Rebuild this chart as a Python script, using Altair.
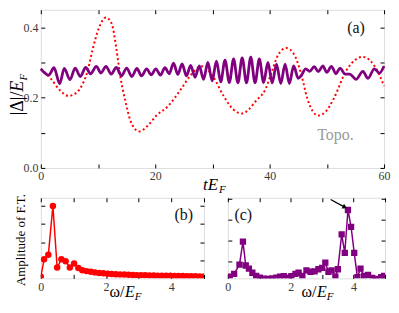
import altair as alt
import pandas as pd

# ---------------- data ----------------
# panel (a): red dotted curve
t_red = [0, 1.7, 3.4, 4.8, 6.3, 7.4, 8.2, 9.1, 10.2, 11.4, 12.4, 13.2, 13.9, 14.8, 15.65, 16.4,
         17.2, 18.8, 20.2, 22.2, 24.5, 26.2, 28.2, 30.1, 31.9, 33.6, 35.2, 36.4, 37.5, 39.3, 40.5,
         41.5, 42.9, 44.2, 45.5, 46.6, 47.5, 48.5, 49.8, 51.2, 53.4, 55.1, 56.3, 57.6, 59.2, 60]
v_red = [0.282, 0.255, 0.22, 0.205, 0.215, 0.242, 0.277, 0.34, 0.40, 0.428, 0.41, 0.34, 0.26,
         0.189, 0.135, 0.112, 0.104, 0.122, 0.149, 0.175, 0.224, 0.264, 0.289, 0.26, 0.206, 0.167,
         0.155, 0.167, 0.189, 0.225, 0.28, 0.322, 0.341, 0.325, 0.268, 0.197, 0.162, 0.149, 0.16,
         0.197, 0.277, 0.309, 0.316, 0.305, 0.264, 0.233]
# panel (a): purple oscillating curve
t_pur = [0, 1.4, 2.3, 3.3, 4.1, 5.1, 6.0, 6.9, 7.85, 8.7, 9.7, 10.5, 11.4, 12.3, 13.2, 14.1, 15.0,
         15.9, 16.8, 17.6, 18.5, 19.3, 20.1, 20.9, 21.7, 22.45, 23.2, 23.95, 24.7, 25.45, 26.2,
         26.95, 27.7, 28.45, 29.2, 29.95, 30.7, 31.45, 32.2, 32.95, 33.7, 34.45, 35.2, 35.95, 36.7,
         37.45, 38.2, 38.95, 39.7, 40.45, 41.2, 41.95, 42.7, 43.45, 44.2, 45.0, 45.5, 46.3, 47.0,
         47.8, 48.5, 49.3, 50.0, 50.8, 51.6, 52.3, 53.2, 54.0, 55.1, 56.3, 57.2, 58.3, 59.2, 60]
v_pur = [0.282, 0.264, 0.285, 0.240, 0.283, 0.251, 0.284, 0.260, 0.286, 0.268, 0.289, 0.270,
         0.289, 0.267, 0.286, 0.262, 0.284, 0.260, 0.283, 0.262, 0.282, 0.265, 0.282, 0.264,
         0.285, 0.268, 0.298, 0.266, 0.296, 0.262, 0.292, 0.258, 0.290, 0.252, 0.300, 0.248,
         0.304, 0.245, 0.307, 0.243, 0.310, 0.242, 0.313, 0.242, 0.315, 0.242, 0.310, 0.243,
         0.300, 0.242, 0.295, 0.240, 0.295, 0.240, 0.290, 0.255, 0.262, 0.282, 0.275, 0.288,
         0.274, 0.290, 0.272, 0.289, 0.268, 0.284, 0.267, 0.267, 0.252, 0.275, 0.255, 0.282,
         0.270, 0.290]

# panel (b): red circles
w_b = [0, 0.1, 0.23, 0.37, 0.5, 0.63, 0.76, 0.89, 1.02, 1.15, 1.27, 1.4, 1.53, 1.66, 1.79, 1.92,
       2.05, 2.17, 2.3, 2.43, 2.56, 2.69, 2.82, 2.94, 3.07, 3.2, 3.33, 3.46, 3.58, 3.71, 3.84,
       3.97, 4.1, 4.22, 4.35, 4.48, 4.61, 4.74, 4.87, 5.0]
amp_b = [0.09, 1.05, 1.3, 4.0, 0.6, 1.05, 0.95, 0.6, 0.82, 0.57, 0.45, 0.4, 0.36, 0.33, 0.3, 0.28,
         0.26, 0.24, 0.23, 0.22, 0.21, 0.2, 0.19, 0.18, 0.18, 0.17, 0.16, 0.16, 0.15, 0.15, 0.14,
         0.14, 0.13, 0.13, 0.13, 0.12, 0.12, 0.12, 0.11, 0.11]

# panel (c): purple squares
w_c = [0.06, 0.2, 0.37, 0.48, 0.57, 0.67, 0.78, 0.9, 1.02, 1.15, 1.28, 1.41, 1.54, 1.66, 1.78,
       1.92, 2.02, 2.15, 2.25, 2.37, 2.5, 2.63, 2.76, 2.88, 3.0, 3.1, 3.2, 3.3, 3.42, 3.5, 3.62,
       3.72, 3.82, 3.92, 4.02, 4.12, 4.22, 4.33, 4.46, 4.59, 4.72, 4.88, 4.97]
amp_c = [0.26, 0.4, 0.84, 1.95, 0.8, 0.65, 0.45, 0.3, 0.21, 0.17, 0.16, 0.18, 0.22, 0.26, 0.29,
         0.22, 0.29, 0.4, 0.45, 0.3, 0.57, 0.5, 0.52, 0.62, 0.69, 0.94, 0.5, 0.57, 0.26, 0.62,
         2.3, 1.41, 3.48, 2.67, 1.41, 0.24, 0.65, 0.3, 0.35, 0.2, 0.15, 0.24, 0.3]

# arrow annotation in (c) (tail -> head)
arrow_w = [3.27, 3.70]
arrow_v = [3.99, 3.63]

# tick values
ticks_a_x = [0, 10, 20, 30, 40, 50, 60]
ticks_a_y = [0, 0.1, 0.2, 0.3, 0.4]
ticks_bc_x = [0, 1, 2, 3, 4, 5]
ticks_b_y = [1, 2, 3, 4]
ticks_c_y = [1, 2, 3, 4]

# ---------------- style ----------------
SERIF = "Liberation Serif"
RED = "#ff0000"
PURPLE = "#800080"
LAB = "#3a3a3a"

WA, HA = 345, 159
WB, HB = 164, 81
WC, HC = 158, 81


def ax(orient, values, label_expr=None, show=True):
    kw = dict(orient=orient, values=values, domain=False, grid=False, ticks=True, tickSize=4,
              tickWidth=1, tickColor="black", offset=-4, title=None, labelFont=SERIF,
              labelFontSize=12, labelColor=LAB, labelPadding=3, labelFlush=False,
              labelOverlap=False)
    if not show:
        kw["labels"] = False
    if label_expr:
        kw["labelExpr"] = label_expr
    return alt.Axis(**kw)


def txt(s, x, y, size=16, italic=False, angle=0, color="black", align="left"):
    kw = dict(font=SERIF, fontSize=size, color=color, align=align, baseline="middle")
    if italic:
        kw["fontStyle"] = "italic"
    if angle:
        kw["angle"] = angle
    return alt.Chart(pd.DataFrame({"s": [s]})).mark_text(**kw).encode(
        x=alt.value(x), y=alt.value(y), text="s:N")


# ---------------- panel (a) ----------------
xa = alt.Scale(domain=[0, 60], nice=False)
ya = alt.Scale(domain=[0, 0.45], nice=False)
df_red = pd.DataFrame({"t": t_red, "v": v_red})
df_pur = pd.DataFrame({"t": t_pur, "v": v_pur})

red_a = alt.Chart(df_red).mark_line(color=RED, strokeWidth=2, strokeDash=[2, 2.6],
                                    interpolate="monotone").encode(
    x=alt.X("t:Q", scale=xa, axis=ax("bottom", ticks_a_x,
                                     "datum.value % 20 == 0 ? datum.value : ''")),
    y=alt.Y("v:Q", scale=ya, axis=ax("left", ticks_a_y,
                                     "round(datum.value*10) % 2 == 0 ? format(datum.value, '.1f') : ''")))
pur_a = alt.Chart(df_pur).mark_line(color=PURPLE, strokeWidth=2.8, interpolate="monotone").encode(
    x=alt.X("t:Q", scale=xa, axis=None), y=alt.Y("v:Q", scale=ya, axis=None))
mir_a = alt.Chart(df_red).mark_point(opacity=0).encode(
    x=alt.X("t:Q", scale=xa, axis=ax("top", ticks_a_x, show=False)),
    y=alt.Y("v:Q", scale=ya, axis=ax("right", ticks_a_y, show=False)))
ann_a = alt.Chart(pd.DataFrame({"t": [55.1, 51.5], "v": [0.397, 0.093], "s": ["(a)", "Topo."],
                                "c": ["#111111", "#9a9a9a"]})).mark_text(
    font=SERIF, fontSize=16).encode(
    x=alt.X("t:Q", scale=xa, axis=None), y=alt.Y("v:Q", scale=ya, axis=None), text="s:N",
    color=alt.Color("c:N", scale=None))

panel_a = alt.layer(
    red_a, pur_a, mir_a, ann_a,
    txt("|Δ|/", -23, 106, size=18, angle=270),
    txt("E", -23, 82.5, size=18, italic=True, angle=270),
    txt("F", -17, 71, size=11, italic=True, angle=270),
    txt("tE", 163, HA + 17, size=17, italic=True),
    txt("F", 179, HA + 22, size=11, italic=True),
).resolve_axis(x="independent", y="independent").properties(width=WA, height=HA)

# ---------------- panel (b) ----------------
xb = alt.Scale(domain=[0, 5], nice=False)
yb = alt.Scale(domain=[0, 4.45], nice=False)
df_b = pd.DataFrame({"w": w_b, "a": amp_b})
line_b = alt.Chart(df_b).mark_line(color=RED, strokeWidth=1.5, clip=True).encode(
    x=alt.X("w:Q", scale=xb, axis=ax("bottom", ticks_bc_x,
                                     "datum.value % 2 == 0 ? datum.value : ''")),
    y=alt.Y("a:Q", scale=yb, axis=ax("left", ticks_b_y, "''")))
pts_b = alt.Chart(df_b).mark_point(shape="circle", filled=True, color=RED, size=42, opacity=1,
                                   clip=True).encode(
    x=alt.X("w:Q", scale=xb, axis=None), y=alt.Y("a:Q", scale=yb, axis=None))
mir_b = alt.Chart(df_b).mark_point(opacity=0).encode(
    x=alt.X("w:Q", scale=xb, axis=ax("top", ticks_bc_x, show=False)),
    y=alt.Y("a:Q", scale=yb, axis=ax("right", ticks_b_y, show=False)))
ann_b = alt.Chart(pd.DataFrame({"w": [4.38], "a": [3.5], "s": ["(b)"]})).mark_text(
    font=SERIF, fontSize=16, color="#111111").encode(
    x=alt.X("w:Q", scale=xb, axis=None), y=alt.Y("a:Q", scale=yb, axis=None), text="s:N")

panel_b = alt.layer(
    line_b, pts_b, mir_b, ann_b,
    txt("Amplitude of F.T.", -20, HB / 2 + 2, size=13, angle=270, align="center"),
    txt("ω/", 69, HB + 14, size=16),
    txt("E", 84.5, HB + 14, size=16, italic=True),
    txt("F", 94.5, HB + 19, size=11, italic=True),
).resolve_axis(x="independent", y="independent").properties(width=WB, height=HB)

# ---------------- panel (c) ----------------
xc = alt.Scale(domain=[0, 5], nice=False)
yc = alt.Scale(domain=[0.18, 4.07], nice=False)
df_c = pd.DataFrame({"w": w_c, "a": amp_c})
line_c = alt.Chart(df_c).mark_line(color=PURPLE, strokeWidth=1.5, clip=True).encode(
    x=alt.X("w:Q", scale=xc, axis=ax("bottom", ticks_bc_x,
                                     "datum.value % 2 == 0 ? datum.value : ''")),
    y=alt.Y("a:Q", scale=yc, axis=ax("left", ticks_c_y, "''")))
pts_c = alt.Chart(df_c).mark_point(shape="square", filled=True, color=PURPLE, size=40, opacity=1,
                                   clip=True).encode(
    x=alt.X("w:Q", scale=xc, axis=None), y=alt.Y("a:Q", scale=yc, axis=None))
mir_c = alt.Chart(df_c).mark_point(opacity=0).encode(
    x=alt.X("w:Q", scale=xc, axis=ax("top", ticks_bc_x, show=False)),
    y=alt.Y("a:Q", scale=yc, axis=ax("right", ticks_c_y, show=False)))
df_arrow = pd.DataFrame({"w": [arrow_w[0]], "a": [arrow_v[0]], "w2": [arrow_w[1]], "a2": [arrow_v[1]]})
arrow_line = alt.Chart(df_arrow).mark_rule(color="black", strokeWidth=1.2).encode(
    x=alt.X("w:Q", scale=xc, axis=None), y=alt.Y("a:Q", scale=yc, axis=None), x2="w2", y2="a2")
arrow_head = alt.Chart(pd.DataFrame({"w": [arrow_w[1]], "a": [arrow_v[1]]})).mark_point(
    shape="triangle", filled=True, color="black", size=28, angle=118, opacity=1).encode(
    x=alt.X("w:Q", scale=xc, axis=None), y=alt.Y("a:Q", scale=yc, axis=None))
ann_c = alt.Chart(pd.DataFrame({"w": [0.49], "a": [3.22], "s": ["(c)"]})).mark_text(
    font=SERIF, fontSize=16, color="#111111").encode(
    x=alt.X("w:Q", scale=xc, axis=None), y=alt.Y("a:Q", scale=yc, axis=None), text="s:N")

panel_c = alt.layer(
    line_c, pts_c, mir_c, arrow_line, arrow_head, ann_c,
    txt("ω/", 74, HC + 14, size=16),
    txt("E", 89.5, HC + 14, size=16, italic=True),
    txt("F", 99.5, HC + 19, size=11, italic=True),
).resolve_axis(x="independent", y="independent").properties(width=WC, height=HC)

bottom = alt.hconcat(panel_b, panel_c, spacing=24, bounds="flush")
chart = alt.vconcat(panel_a, bottom, spacing=30, bounds="flush").properties(
    padding={"left": 0, "top": 0, "right": 0, "bottom": 0}
).configure_view(stroke="black", strokeWidth=1.5).configure(background="white")

chart.save("out.html", embed_options={"renderer": "svg", "actions": False})
